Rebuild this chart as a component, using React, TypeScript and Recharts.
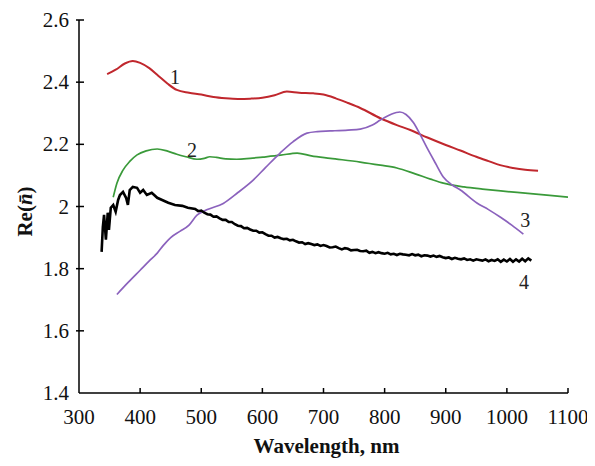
import React from 'react';
import { LineChart, Line, XAxis, YAxis, ReferenceDot } from 'recharts';

// wavelength (nm), Re(n) pairs
const curve1: [number, number][] = [
  [346, 2.426], [360, 2.44], [375, 2.46], [388, 2.468], [400, 2.462], [415, 2.445],
  [430, 2.42], [445, 2.395], [460, 2.375], [480, 2.366], [500, 2.36], [520, 2.352],
  [540, 2.348], [560, 2.346], [580, 2.347], [600, 2.35], [620, 2.358], [640, 2.37],
  [660, 2.366], [683, 2.364], [700, 2.36], [720, 2.348], [740, 2.333], [760, 2.317],
  [793, 2.284], [820, 2.262], [842, 2.246], [870, 2.222], [900, 2.198], [924, 2.18],
  [950, 2.16], [970, 2.146], [989, 2.133], [1010, 2.124], [1030, 2.118], [1051, 2.115],
];

const curve2: [number, number][] = [
  [356, 2.03], [362, 2.075], [372, 2.117], [383, 2.145], [395, 2.166], [410, 2.179],
  [428, 2.185], [445, 2.178], [460, 2.168], [475, 2.16], [493, 2.152], [505, 2.155],
  [514, 2.16], [525, 2.158], [540, 2.153], [558, 2.152], [580, 2.155], [601, 2.159],
  [630, 2.165], [657, 2.172], [680, 2.163], [711, 2.155], [760, 2.143], [793, 2.133],
  [820, 2.124], [850, 2.105], [875, 2.088], [896, 2.075], [930, 2.063], [960, 2.056],
  [990, 2.05], [1030, 2.043], [1070, 2.036], [1100, 2.03],
];

const curve3: [number, number][] = [
  [362, 1.717], [380, 1.755], [400, 1.795], [415, 1.825], [428, 1.85], [438, 1.875],
  [450, 1.9], [465, 1.92], [480, 1.94], [493, 1.972], [510, 1.99], [536, 2.01],
  [560, 2.045], [585, 2.085], [605, 2.125], [629, 2.172], [650, 2.208], [673, 2.236],
  [690, 2.241], [711, 2.243], [740, 2.246], [760, 2.249], [780, 2.262], [793, 2.278],
  [810, 2.296], [825, 2.304], [835, 2.296], [847, 2.27], [858, 2.232], [869, 2.19],
  [883, 2.14], [896, 2.095], [910, 2.07], [924, 2.053], [951, 2.011], [970, 1.99],
  [989, 1.966], [1008, 1.94], [1027, 1.911],
];

// noisy measured curve
const curve4: [number, number][] = [
  [337, 1.854], [339, 1.934], [341, 1.973], [344, 1.893], [347, 1.98], [349, 1.925],
  [352, 1.996], [356, 2.005], [360, 1.983], [364, 2.021], [367, 2.037], [372, 2.047],
  [377, 2.028], [380, 2.005], [383, 2.053], [388, 2.063], [395, 2.06], [400, 2.044],
  [405, 2.053], [411, 2.037], [419, 2.044], [428, 2.028], [436, 2.021], [446, 2.012],
  [457, 2.005], [469, 2.002], [478, 1.996],
  [490, 1.992], [495, 1.985], [500, 1.987], [505, 1.98], [510, 1.975], [515, 1.974],
  [520, 1.967], [525, 1.968], [530, 1.962], [535, 1.957], [540, 1.957], [545, 1.95],
  [550, 1.95], [555, 1.943], [560, 1.938], [565, 1.937], [570, 1.93], [575, 1.931],
  [580, 1.926], [585, 1.922], [590, 1.922], [595, 1.916], [600, 1.917], [605, 1.911],
  [610, 1.906], [615, 1.906], [620, 1.9], [625, 1.902], [630, 1.898], [635, 1.895],
  [640, 1.896], [645, 1.891], [650, 1.893], [655, 1.888], [660, 1.884], [665, 1.885],
  [670, 1.879], [675, 1.882], [680, 1.879], [685, 1.876], [690, 1.878], [695, 1.873],
  [700, 1.876], [705, 1.873], [710, 1.868], [715, 1.869], [720, 1.871], [725, 1.866],
  [730, 1.862], [735, 1.866], [740, 1.864], [745, 1.859], [750, 1.86], [755, 1.861],
  [760, 1.857], [765, 1.856], [770, 1.858], [775, 1.851], [780, 1.854], [785, 1.85],
  [790, 1.853], [795, 1.85], [800, 1.848], [805, 1.851], [810, 1.846], [815, 1.848],
  [820, 1.844], [825, 1.848], [830, 1.846], [835, 1.845], [840, 1.843], [845, 1.847],
  [850, 1.843], [855, 1.845], [860, 1.84], [865, 1.843], [870, 1.842], [875, 1.839],
  [880, 1.842], [885, 1.838], [890, 1.841], [895, 1.837], [900, 1.834], [905, 1.836],
  [910, 1.831], [915, 1.835], [920, 1.832], [925, 1.83], [930, 1.833], [935, 1.828],
  [940, 1.83], [945, 1.826], [950, 1.83], [955, 1.828], [960, 1.826], [965, 1.83],
  [970, 1.824], [975, 1.828], [980, 1.825], [985, 1.83], [990, 1.822], [995, 1.829],
  [1000, 1.823], [1005, 1.831], [1010, 1.822], [1015, 1.83], [1020, 1.823], [1025, 1.832],
  [1030, 1.824], [1035, 1.833], [1040, 1.826],
];

const xTicks = [300, 400, 500, 600, 700, 800, 900, 1000, 1100];
const yTicks = [1.4, 1.6, 1.8, 2, 2.2, 2.4, 2.6];

// curve number labels, placed in data coordinates
const curveLabels = [
  { text: '1', x: 457, y: 2.416 },
  { text: '2', x: 485, y: 2.182 },
  { text: '3', x: 1030, y: 1.957 },
  { text: '4', x: 1028, y: 1.757 },
];

const FONT = '"Liberation Serif", "Times New Roman", serif';

const toPoints = (arr: [number, number][]) => arr.map(([x, y]) => ({ x, y }));

const XTick = (props: any) => {
  const { x, y, payload } = props;
  return (
    <g>
      {payload.value !== 300 && <line x1={x} y1={y} x2={x} y2={y - 5} stroke="#000" strokeWidth={1.5} />}
      <text x={x} y={y + 31} textAnchor="middle" fontFamily={FONT} fontSize={21} fill="#111">
        {payload.value}
      </text>
    </g>
  );
};

const YTick = (props: any) => {
  const { x, y, payload } = props;
  return (
    <g>
      {payload.value !== 1.4 && <line x1={x - 3} y1={y} x2={x + 5} y2={y} stroke="#000" strokeWidth={1.5} />}
      <text x={x - 10} y={y + 7} textAnchor="end" fontFamily={FONT} fontSize={21} fill="#111">
        {Number(payload.value.toFixed(1)).toString()}
      </text>
    </g>
  );
};

export default function App() {
  return (
    <LineChart width={587} height={458} margin={{ top: 12, right: 27, left: 0, bottom: 0 }}>
      <XAxis
        type="number"
        dataKey="x"
        domain={[300, 1100]}
        ticks={xTicks}
        allowDataOverflow
        height={73}
        tickSize={0}
        tickMargin={0}
        tickLine={false}
        axisLine={{ stroke: '#000', strokeWidth: 1.5 }}
        tick={<XTick />}
        label={{
          content: ({ viewBox }: any) => (
            <text
              x={viewBox.x + viewBox.width / 2 + 3}
              y={viewBox.y + 60}
              textAnchor="middle"
              fontFamily={FONT}
              fontSize={21}
              fontWeight="bold"
              fill="#111"
            >
              Wavelength, nm
            </text>
          ),
        }}
      />
      <YAxis
        type="number"
        dataKey="y"
        domain={[1.4, 2.6]}
        ticks={yTicks}
        allowDataOverflow
        width={71}
        tickSize={0}
        tickMargin={0}
        tickLine={false}
        axisLine={{ stroke: '#000', strokeWidth: 1.5 }}
        tick={<YTick />}
        label={{
          content: ({ viewBox }: any) => {
            const cx = 17;
            const cy = viewBox.y + viewBox.height / 2 + 5;
            return (
              <text
                x={cx}
                y={cy}
                transform={`rotate(-90, ${cx}, ${cy})`}
                textAnchor="middle"
                dominantBaseline="central"
                fontFamily={FONT}
                fontSize={21}
                fontWeight="bold"
                fill="#111"
              >
                Re(<tspan fontStyle="italic">n̄</tspan>)
              </text>
            );
          },
        }}
      />
      <Line data={toPoints(curve1)} dataKey="y" type="monotone" stroke="#c0272d" strokeWidth={2} dot={false} isAnimationActive={false} />
      <Line data={toPoints(curve2)} dataKey="y" type="monotone" stroke="#3a9a3a" strokeWidth={1.7} dot={false} isAnimationActive={false} />
      <Line data={toPoints(curve3)} dataKey="y" type="monotone" stroke="#8b62bd" strokeWidth={1.7} dot={false} isAnimationActive={false} />
      <Line data={toPoints(curve4)} dataKey="y" type="linear" stroke="#000" strokeWidth={2.6} dot={false} isAnimationActive={false} />
      {curveLabels.map((l) => (
        <ReferenceDot
          key={l.text}
          x={l.x}
          y={l.y}
          r={0}
          ifOverflow="visible"
          shape={(p: any) => (
            <text x={p.cx} y={p.cy + 7} textAnchor="middle" fontFamily={FONT} fontSize={20} fill="#222">
              {l.text}
            </text>
          )}
        />
      ))}
    </LineChart>
  );
}
